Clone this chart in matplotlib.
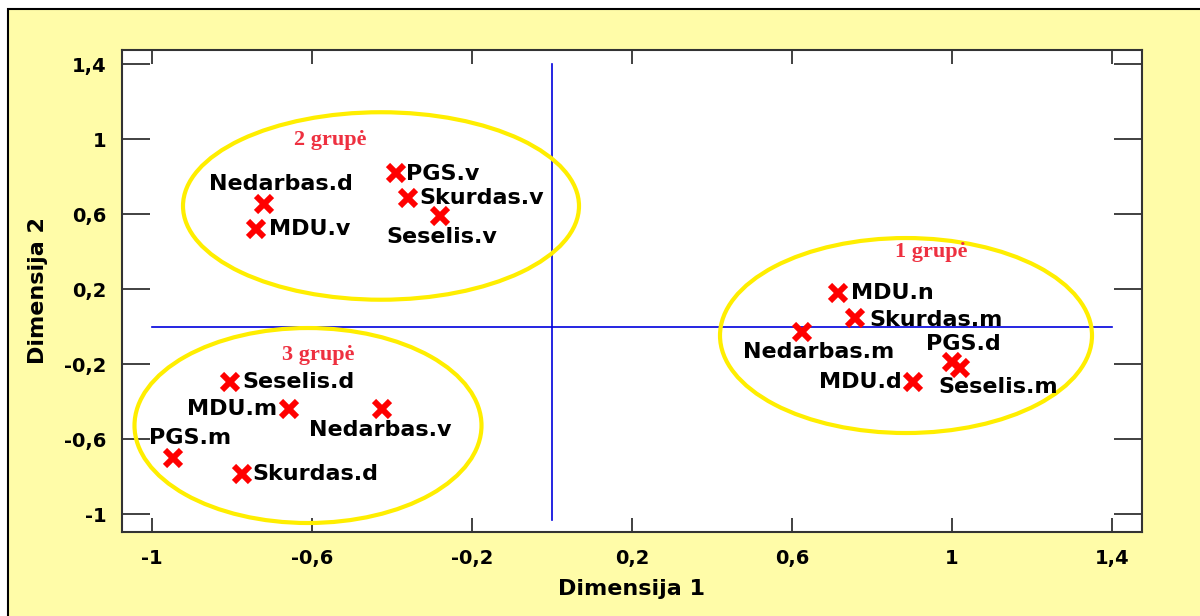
import matplotlib.pyplot as plt
from matplotlib.patches import Ellipse, Rectangle

# taskai (Dimensija 1, Dimensija 2)
names = ["Nedarbas.d", "MDU.v", "PGS.v", "Skurdas.v", "Seselis.v",
         "MDU.n", "Skurdas.m", "Nedarbas.m", "PGS.d", "Seselis.m", "MDU.d",
         "Seselis.d", "MDU.m", "Nedarbas.v", "PGS.m", "Skurdas.d"]
dim1 = [-0.72, -0.74, -0.39, -0.36, -0.28,
        0.715, 0.757, 0.624, 1.0, 1.02, 0.903,
        -0.805, -0.657, -0.425, -0.947, -0.776]
dim2 = [0.653, 0.52, 0.818, 0.685, 0.589,
        0.18, 0.045, -0.028, -0.19, -0.22, -0.294,
        -0.294, -0.44, -0.44, -0.70, -0.787]

# grupės: pavadinimas, centras, plotis, aukštis
groups = ["1 grupė", "2 grupė", "3 grupė"]
group_cx = [0.885, -0.4275, -0.61]
group_cy = [-0.048, 0.643, -0.528]
group_w = [0.93, 0.99, 0.8675]
group_h = [1.04, 1.0, 1.04]
group_lx = [0.949, -0.555, -0.585]
group_ly = [0.399, 0.995, -0.152]

ticks = [-1, -0.6, -0.2, 0.2, 0.6, 1, 1.4]
tick_labels = ["-1", "-0,6", "-0,2", "0,2", "0,6", "1", "1,4"]

# etikečių poslinkiai (pikseliais) ir lygiavimas
offsets = {
    "Nedarbas.d": (17, 20, "center"), "MDU.v": (13, 0, "left"),
    "PGS.v": (10, -1, "left"), "Skurdas.v": (11, 0, "left"),
    "Seselis.v": (2, -21, "center"), "MDU.n": (13, 0, "left"),
    "Skurdas.m": (15, -2, "left"), "Nedarbas.m": (17, -20, "center"),
    "PGS.d": (11, 18, "center"), "Seselis.m": (38, -19, "center"),
    "MDU.d": (-11, 0, "right"), "Seselis.d": (12, 0, "left"),
    "MDU.m": (-12, 0, "right"), "Nedarbas.v": (-2, -21, "center"),
    "PGS.m": (17, 20, "center"), "Skurdas.d": (11, 0, "left"),
}

fig = plt.figure(figsize=(12, 6.16), dpi=100, facecolor="white")
fig.patches.append(Rectangle((8 / 1200, -0.01), 1.0, (616 - 9) / 616 + 0.01,
                             transform=fig.transFigure, facecolor="#fffca8",
                             edgecolor="black", linewidth=1.5, zorder=-10))
ax = fig.add_axes([122 / 1200, 84 / 616, 1020 / 1200, 482 / 616])
ax.set_facecolor("white")

ax.set_xlim(-1.075, 1.475)
ax.set_ylim(-1.096, 1.475)

ax.plot([-1, 1.4], [-0.005, -0.005], color="#0000dd", lw=1.2, zorder=1)
ax.plot([0, 0], [-1.03, 1.4], color="#0000dd", lw=1.2, zorder=1)

for i in range(len(groups)):
    ax.add_patch(Ellipse((group_cx[i], group_cy[i]), group_w[i], group_h[i],
                         fill=False, edgecolor="#ffee00", lw=3, zorder=2))
    ax.text(group_lx[i], group_ly[i], groups[i], color="#ee3040",
            fontsize=16, fontweight="bold", family="Liberation Serif",
            ha="center", va="center", zorder=4)

ax.plot(dim1, dim2, linestyle="none", marker="x", color="red",
        markersize=11, mew=4.3, zorder=3)

for n, x, y in zip(names, dim1, dim2):
    dx, dy, ha = offsets[n]
    ax.annotate(n, (x, y), xytext=(dx, dy), textcoords="offset pixels",
                ha=ha, va="center", fontsize=16, fontweight="bold",
                family="DejaVu Sans", zorder=4)

ax.set_xticks(ticks)
ax.set_xticklabels(tick_labels)
ax.set_yticks(ticks)
ax.set_yticklabels(tick_labels)
for lab in ax.get_xticklabels() + ax.get_yticklabels():
    lab.set_fontweight("bold")
    lab.set_fontsize(14)
ax.tick_params(axis="x", direction="in", length=10, width=1.3,
               top=True, bottom=True, pad=12, colors="#333333", labelcolor="black")
ax.tick_params(axis="y", direction="in", length=20, width=1.3,
               left=True, right=True, pad=11, colors="#333333", labelcolor="black")
for s in ax.spines.values():
    s.set_linewidth(1.5)
    s.set_color("#333333")

ax.set_xlabel("Dimensija 1", fontsize=16, fontweight="bold", labelpad=8)
ax.set_ylabel("Dimensija 2", fontsize=16, fontweight="bold", labelpad=12)

fig.savefig("out.png", dpi=100, facecolor=fig.get_facecolor())
